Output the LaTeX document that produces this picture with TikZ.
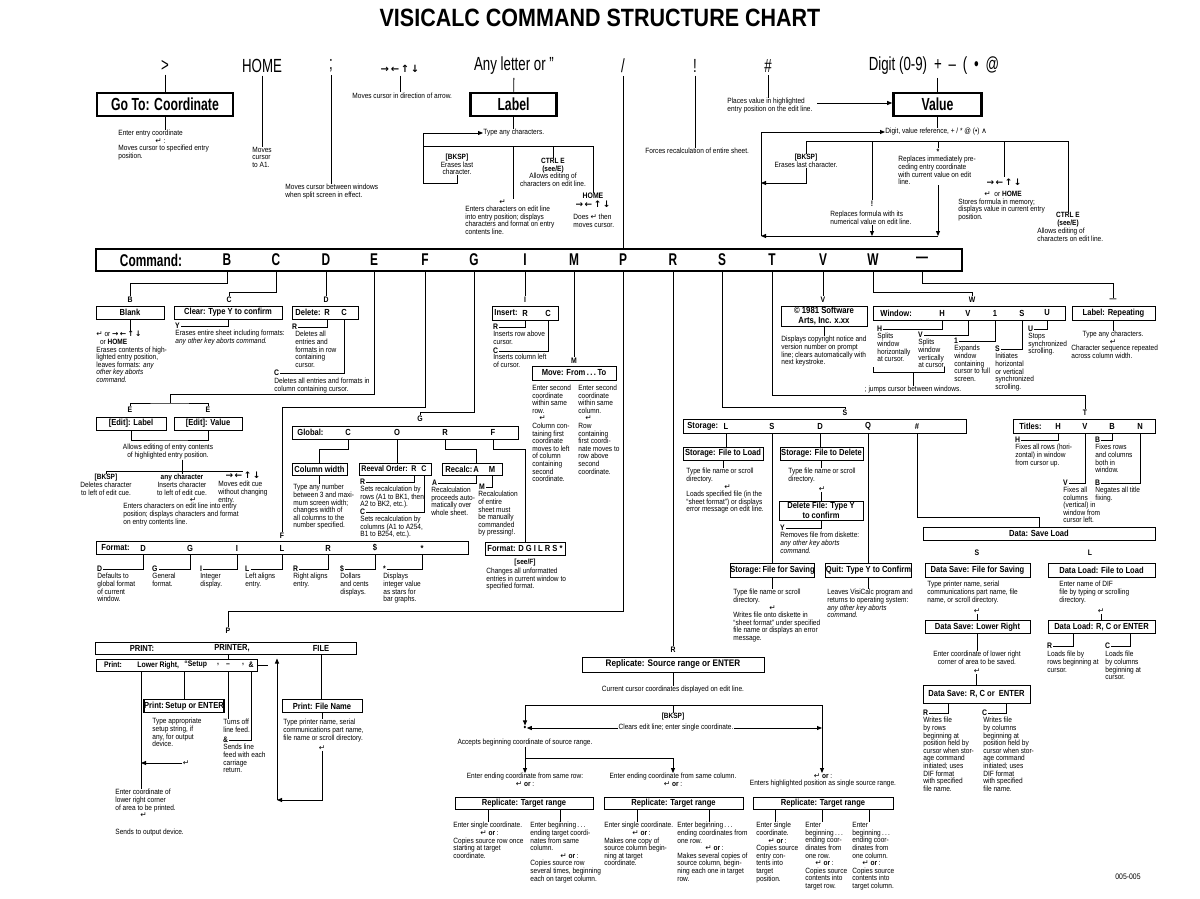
\documentclass[tikz,border=0pt]{standalone}
\usepackage{fontspec}
\setmainfont[FakeStretch=0.86]{Liberation Sans}
\newfontfamily\condfont[FakeStretch=0.7]{Liberation Sans}
\newfontfamily\symfont{DejaVu Sans}
\usetikzlibrary{arrows.meta}
\newcommand{\entk}{{\symfont ↵}}
\newcommand{\arrkeys}{{\symfont\bfseries →\,←\,↑\,↓}}

\begin{document}
\begin{tikzpicture}[x=1pt, y=-1pt, line width=0.85pt,
    hdr/.style={font=\condfont\fontsize{19}{20}\selectfont, inner sep=0pt, outer sep=3pt},
    bigbox/.style={draw, line width=2.6pt, font=\condfont\bfseries\fontsize{17.5}{18}\selectfont, inner sep=0pt, minimum height=23pt},
    cbox/.style={draw, line width=1pt, font=\bfseries\fontsize{8.8}{9.4}\selectfont, inner sep=0pt, minimum height=13pt},
    cbar/.style={draw, line width=1pt, inner sep=0pt, minimum height=13pt},
    ltr/.style={font=\bfseries\fontsize{8.8}{9}\selectfont, inner sep=0pt},
    cltr/.style={font=\condfont\bfseries\fontsize{17}{18}\selectfont, inner sep=0pt},
    lab/.style={font=\bfseries\fontsize{8}{8}\selectfont, inner sep=0.8pt},
    note/.style={font=\fontsize{7.6}{7.6}\selectfont, align=left, anchor=north west, inner sep=0pt},
    cnote/.style={note, align=center, anchor=north},
    arw/.style={-{Triangle[length=5pt,width=4pt]}}
]
\useasboundingbox (0,0) rectangle (1200,899);

% Title
\node[font=\bfseries\fontsize{25}{26}\selectfont] (title) at (600,18) {VISICALC COMMAND STRUCTURE CHART};

% Draw key row
\node[hdr] (kGo) at (165,66) {>};
\node[hdr] (kHome) at (262,66) {HOME};
\node[hdr] (kSemi) at (331,66) {;};
\node[font=\fontsize{10}{10}\selectfont, inner sep=0pt, outer sep=3pt] (kArr) at (400,69) {\arrkeys};
\node[hdr] (kLetter) at (514,66) {Any letter or ”};
\node[hdr] (kSlash) at (623,66) {/};
\node[hdr] (kBang) at (695,66) {!};
\node[hdr] (kHash) at (768,66) {\#};
\node[hdr] (kDigit) at (934,66) {Digit (0-9) \,+\, –\, (\, •\, @};

% Go To and cursor keys
\node[bigbox, minimum width=136pt] (goto) at (165,104.5) {Go To: Coordinate};
\node[note] (gotoTxt) at (118,129.5) {Enter entry coordinate\\\hspace*{37pt}\entk\ :\\Moves cursor to specified entry\\position.};
\node[note] (homeTxt) at (252,146.5) {Moves\\cursor\\to A1.};
\node[note] (semiTxt) at (285,183.5) {Moves cursor between windows\\when split screen in effect.};
\node[note] (arrTxt) at (352,92.5) {Moves cursor in direction of arrow.};

\draw (kGo) -- (goto);
\draw (goto.south) -- (goto.south |- gotoTxt.north);
\draw (kHome) -- (kHome |- homeTxt.north);
\draw (kSemi) -- (kSemi |- semiTxt.north);
\draw (kArr) -- (kArr |- arrTxt.north);

% Label
\node[bigbox, minimum width=86pt] (label) at (513.5,104.5) {Label};
\node[note, anchor=west] (typTxt) at (483,133) {Type any characters.};
\node[cnote] (bkL) at (457,153.5) {\textbf{[BKSP]}\\Erases last\\character.};
\node[cnote] (ctrlL) at (553,158) {\textbf{CTRL E}\\\textbf{(see/E)}\\Allows editing of\\characters on edit line.};
\node[note] (entTxt) at (465,199) {\hspace*{34pt}\entk\\Enters characters on edit line\\into entry position; displays\\characters and format on entry\\contents line.};
\node[cnote, font=\bfseries\fontsize{8}{9}\selectfont] (homeL) at (593,192.5) {HOME\\{\fontsize{9}{9}\selectfont\arrkeys}};
\node[note] (doesTxt) at (573,213.5) {Does \entk\ then\\moves cursor.};
\coordinate (lpL) at (423,183);
\coordinate (brL) at (423,146);

\draw (kLetter) -- (label);
\draw (label.south) -- (label.south |- typTxt.north);
\draw[arw] (bkL.south) |- (lpL) |- (typTxt.west);
\draw (brL) -| (homeL.north);
\draw (ctrlL.north |- brL) -- (ctrlL.north);
\draw (label.south |- brL) -- (label.south |- entTxt.north);

% Slash, bang, hash
\node[note] (bangTxt) at (645,147.5) {Forces recalculation of entire sheet.};
\node[note] (hashTxt) at (727,98) {Places value in highlighted\\entry position on the edit line.};
\draw (kBang) -- (kBang |- bangTxt.north);
\draw (kHash) -- (kHash |- hashTxt.north);

% Value
\node[bigbox, minimum width=88pt] (value) at (937.5,104.5) {Value};
\coordinate (hashA) at (817,103);
\node[note, anchor=west] (digTxt) at (885,132) {Digit, value reference, + / * @ (•) {\symfont ∧}};
\node[cnote] (bkV) at (806,154) {\textbf{[BKSP]}\\Erases last character.};
\node[lab] (starV) at (938,152) {*};
\node[note] (repTxt) at (898,156) {Replaces immediately pre-\\ceding entry coordinate\\with current value on edit\\line.};
\node[lab] (bangV) at (872,204) {!};
\node[note] (fmlTxt) at (830,211) {Replaces formula with its\\numerical value on edit line.};
\node[font=\fontsize{9}{9}\selectfont, inner sep=0.8pt] (arrV) at (1004,182) {\arrkeys};
\node[note] (storeTxt) at (958,191) {\hspace*{26pt}\entk\ \ or \textbf{HOME}\\Stores formula in memory;\\displays value in current entry\\position.};
\node[cnote] (ctrlV) at (1068,212) {\textbf{CTRL E}\\\textbf{(see/E)}};
\node[note] (ctrlVTxt) at (1037,228) {Allows editing of\\characters on edit line.};
\coordinate (brV) at (806,141);
\coordinate (lpV) at (761,236);
\coordinate (lpV1) at (761,183);

\draw (value.north |- kDigit.south) -- (value.north);
\draw[arw] (hashA) -- (hashA -| value.west);
\draw (value.south) -- (value.south |- digTxt.north);
\draw (bkV.north) -- (bkV.north |- brV) -| (ctrlV.north);
\draw (starV.north |- brV) -- (starV.north);
\draw (bangV.north |- brV) -- (bangV.north);
\draw (arrV.north |- brV) -- (arrV.north);
\draw[arw] (bkV.south) |- (lpV1);
\draw[arw] (starV |- repTxt.south) -- (starV |- lpV);
\draw[arw] (bangV |- fmlTxt.south) -- (bangV |- lpV);
\draw[arw] (starV |- lpV) -- (lpV);
\draw[arw] (lpV) |- (digTxt.west);

% Command bar
\node[draw, line width=2.6pt, minimum width=866pt, minimum height=22pt, inner sep=0pt] (cmd) at (529,260) {};
\node[cltr] (cmdT) at (151,260) {Command:};
\node[cltr] (cB) at (227,260) {B};
\node[cltr] (cC) at (276,260) {C};
\node[cltr] (cD) at (326,260) {D};
\node[cltr] (cE) at (374,260) {E};
\node[cltr] (cF) at (425,260) {F};
\node[cltr] (cG) at (474,260) {G};
\node[cltr] (cI) at (525,260) {I};
\node[cltr] (cM) at (574,260) {M};
\node[cltr] (cP) at (623,260) {P};
\node[cltr] (cR) at (673,260) {R};
\node[cltr] (cS) at (722,260) {S};
\node[cltr] (cT) at (772,260) {T};
\node[cltr] (cV) at (823,260) {V};
\node[cltr] (cW) at (873,260) {W};
\node[cltr] (cDash) at (922,260) {—};
\draw (kSlash) -- (kSlash |- cmd.north);

% Command letters below the bar
\node[lab] (lB) at (130,300) {B};
\node[lab] (lC) at (229,300) {C};
\node[lab] (lD) at (326,300) {D};
\node[lab] (lE1) at (130,410) {E};
\node[lab] (lE2) at (208,410) {E};
\node[lab] (lF) at (282,536) {F};
\node[lab] (lG) at (420,419) {G};
\node[lab] (lI) at (525,300) {I};
\node[lab] (lM) at (574,361) {M};
\node[lab] (lP) at (228,631) {P};
\node[lab] (lR) at (673,650) {R};
\node[lab] (lS) at (845,413) {S};
\node[lab] (lT) at (1085,413) {T};
\node[lab] (lV) at (823,300) {V};
\node[lab] (lW) at (972,300) {W};
\node[lab] (lDash) at (1113,300) {—};
\coordinate (eCor) at (170,394);
\coordinate (eMid) at (170,403);
\coordinate (fCor) at (282,407);
\coordinate (gCor) at (420,412);
\coordinate (pCor) at (228,611);
\coordinate (sCor) at (845,407);
\coordinate (tCor) at (1085,395);
\coordinate (wCor) at (972,292);
\coordinate (dCor) at (1113,283);

\draw (cB |- cmd.south) -- ++(0,11) -| (lB);
\draw (cC |- cmd.south) -- ++(0,20) -| (lC);
\draw (cD |- cmd.south) -- (lD);
\draw (cE |- cmd.south) |- (eCor) -- (eMid);
\draw (lE1.north) |- (eMid) -| (lE2.north);
\draw (cF |- cmd.south) |- (fCor) -- (lF);
\draw (cG |- cmd.south) |- (gCor) -- (lG);
\draw (cI |- cmd.south) -- (lI);
\draw (cM |- cmd.south) -- (lM);
\draw (cP |- cmd.south) |- (pCor) -- (lP);
\draw (cR |- cmd.south) -- (lR);
\draw (cS |- cmd.south) |- (sCor) -- (lS);
\draw (cT |- cmd.south) |- (tCor) -- (lT);
\draw (cV |- cmd.south) -- (lV);
\draw (cW |- cmd.south) |- (wCor) -- (lW);
\draw (cDash |- cmd.south) |- (dCor) -- (lDash);

% Blank, Clear, Delete
\node[cbox, minimum width=68pt] (blank) at (130,312.5) {Blank};
\node[note] (blankTxt) at (96,331) {\entk\ or \arrkeys\\\ \ or \textbf{HOME}\\Erases contents of high-\\lighted entry position,\\leaves formats: \textit{any}\\\textit{other key aborts}\\\textit{command.}};
\draw (blank.south) -- (blank.south |- blankTxt.north);

\node[cbox, minimum width=108pt] (clear) at (228,312.5) {Clear: Type Y to confirm};
\node[lab, anchor=west] (clY) at (174,326) {Y};
\node[note] (clearTxt) at (175,330) {Erases entire sheet including formats:\\\textit{any other key aborts command.}};
\draw (clY.east) -| (clear.south);

\node[cbox, minimum width=66pt] (delete) at (325,312.5) {};
\node[ltr, anchor=west] (delT) at (295,312.5) {Delete:};
\node[ltr] (delR) at (327,312.5) {R};
\node[ltr] (delC) at (344,312.5) {C};
\node[lab, anchor=west] (dlR) at (291,327) {R};
\node[note] (dlRTxt) at (295,331) {Deletes all\\entries and\\formats in row\\containing\\cursor.};
\node[lab, anchor=west] (dlC) at (273,373) {C};
\node[note] (dlCTxt) at (274,378) {Deletes all entries and formats in\\column containing cursor.};
\draw (dlR.east) -| (delR |- delete.south);
\draw (dlC.east) -| (delC |- delete.south);

% Edit
\node[cbox, minimum width=70pt] (editL) at (131,423.5) {[Edit]: Label};
\node[cbox, minimum width=68pt] (editV) at (208,423.5) {[Edit]: Value};
\coordinate (edBr) at (168,440);
\node[cnote] (edTxt) at (168,444) {Allows editing of entry contents\\of highlighted entry position.};
\node[cnote] (bkE) at (106,474) {\textbf{[BKSP]}\\Deletes character\\to left of edit cue.};
\node[cnote] (anyE) at (182,474) {\textbf{any character}\\Inserts character\\to left of edit cue.\\\hspace*{22pt}\entk};
\node[font=\fontsize{9}{9}\selectfont, inner sep=0pt] (arrE) at (243,475) {\arrkeys};
\node[note] (movE) at (218,481) {Moves edit cue\\without changing\\entry.};
\node[note] (edEnt) at (123,503) {Enters characters on edit line into entry\\position; displays characters and format\\on entry contents line.};
\draw (editL.south) |- (edBr) -| (editV.south);
\draw (bkE.north) |- (arrE.north);
\draw (anyE.north |- edTxt.south) -- (anyE.north);

% Format bar
\node[cbar, minimum width=372pt] (fmt) at (282,548) {};
\node[ltr, anchor=west] (fmtT) at (101,548) {Format:};
\node[ltr] (fmD) at (143,548) {D};
\node[ltr] (fmG) at (190,548) {G};
\node[ltr] (fmI) at (237,548) {I};
\node[ltr] (fmL) at (282,548) {L};
\node[ltr] (fmR) at (328,548) {R};
\node[ltr] (fmS) at (375,548) {\$};
\node[ltr] (fmX) at (422,548) {*};
\node[lab, anchor=west] (lfD) at (96,569) {D};
\node[lab, anchor=west] (lfG) at (151,569) {G};
\node[lab, anchor=west] (lfI) at (199,569) {I};
\node[lab, anchor=west] (lfL) at (244,569) {L};
\node[lab, anchor=west] (lfR) at (292,569) {R};
\node[lab, anchor=west] (lfS) at (339,569) {\$};
\node[lab, anchor=west] (lfX) at (382,569) {*};
\node[note] (tfD) at (97,573) {Defaults to\\global format\\of current\\window.};
\node[note] (tfG) at (152,573) {General\\format.};
\node[note] (tfI) at (200,573) {Integer\\display.};
\node[note] (tfL) at (245,573) {Left aligns\\entry.};
\node[note] (tfR) at (293,573) {Right aligns\\entry.};
\node[note] (tfS) at (340,573) {Dollars\\and cents\\displays.};
\node[note] (tfX) at (383,573) {Displays\\integer value\\as stars for\\bar graphs.};
\draw (lfD.east) -| (fmD |- fmt.south);
\draw (lfG.east) -| (fmG |- fmt.south);
\draw (lfI.east) -| (fmI |- fmt.south);
\draw (lfL.east) -| (fmL |- fmt.south);
\draw (lfR.east) -| (fmR |- fmt.south);
\draw (lfS.east) -| (fmS |- fmt.south);
\draw (lfX.east) -| (fmX |- fmt.south);

% Global
\node[cbar, minimum width=226pt] (glob) at (405,432.5) {};
\node[ltr, anchor=west] (glT) at (297,432.5) {Global:};
\node[ltr] (glC) at (348,432.5) {C};
\node[ltr] (glO) at (397,432.5) {O};
\node[ltr] (glR) at (445,432.5) {R};
\node[ltr] (glF) at (493,432.5) {F};

\node[cbox, minimum width=55pt, minimum height=12pt] (colw) at (319.5,469) {Column width};
\node[note] (colwTxt) at (293,484) {Type any number\\between 3 and maxi-\\mum screen width;\\changes width of\\all columns to the\\number specified.};
\draw (glC |- glob.south) -- ++(0,10) -| (colw.north);
\draw (colw.south) -- (colw.south |- colwTxt.north);

\node[cbox, minimum width=72pt, minimum height=12pt] (reev) at (395,469) {};
\node[ltr, anchor=west, font=\bfseries\fontsize{8.2}{9}\selectfont] (reT) at (361,469) {Reeval Order:};
\node[ltr, font=\bfseries\fontsize{8.2}{9}\selectfont] (reR) at (414,469) {R};
\node[ltr, font=\bfseries\fontsize{8.2}{9}\selectfont] (reC) at (424,469) {C};
\node[lab, anchor=west] (rvR) at (359,482) {R};
\node[note] (rvRTxt) at (360,485.5) {Sets recalculation by\\rows (A1 to BK1, then\\A2 to BK2, etc.).};
\node[lab, anchor=west] (rvC) at (359,512) {C};
\node[note] (rvCTxt) at (360,515.5) {Sets recalculation by\\columns (A1 to A254,\\B1 to B254, etc.).};
\draw (glO |- glob.south) -- (glO |- reev.north);
\draw (rvR.east) -| (reR |- reev.south);
\draw (rvC.east) -| (reC |- reev.south);

\node[cbox, minimum width=60pt, minimum height=12pt] (recalc) at (472,469) {};
\node[ltr, anchor=west] (rcT) at (445,469) {Recalc:};
\node[ltr] (rcA) at (476,469) {A};
\node[ltr] (rcM) at (492,469) {M};
\node[lab, anchor=west] (rA) at (431,483) {A};
\node[note] (rATxt) at (431,486.5) {Recalculation\\proceeds auto-\\matically over\\whole sheet.};
\node[lab, anchor=west] (rM) at (478,487) {M};
\node[note] (rMTxt) at (478,491) {Recalculation\\of entire\\sheet must\\be manually\\commanded\\by pressing!.};
\draw (glR |- glob.south) -- ++(0,10) -| (rcA |- recalc.north);
\draw (rA.east) -| (rcA |- recalc.south);
\draw (rM.east) -| (rcM |- recalc.south);

\node[cbox, minimum width=80pt] (fmtg) at (525,548.5) {Format: D G I L R S *};
\node[cnote, font=\bfseries\fontsize{7.6}{7.6}\selectfont] (fgSee) at (525,559) {[see/F]};
\node[note] (fgTxt) at (486,567.5) {Changes all unformatted\\entries in current window to\\specified format.};
\draw (glF |- glob.south) -- ++(0,10) -| (fmtg.north);

% Insert and Move
\node[cbox, minimum width=66pt, minimum height=14pt] (insert) at (525,313) {};
\node[ltr, anchor=west] (insT) at (494,313) {Insert:};
\node[ltr] (insR) at (525,313) {R};
\node[ltr] (insC) at (548,313) {C};
\node[lab, anchor=west] (inR) at (492,327) {R};
\node[note] (inRTxt) at (493,331) {Inserts row above\\cursor.};
\node[lab, anchor=west] (inC) at (492,351) {C};
\node[note] (inCTxt) at (493,354) {Inserts column left\\of cursor.};
\draw (inR.east) -| (insR |- insert.south);
\draw (inC.east) -| (insC |- insert.south);

\node[cbox, minimum width=84pt, minimum height=14pt] (move) at (574,373) {Move: From\,.\,.\,.\,To};
\node[note] (mvL) at (532,384.5) {Enter second\\coordinate\\within same\\row.\\\hspace*{7pt}\entk\\Column con-\\taining first\\coordinate\\moves to left\\of column\\containing\\second\\coordinate.};
\node[note] (mvR) at (578,384.5) {Enter second\\coordinate\\within same\\column.\\\hspace*{7pt}\entk\\Row\\containing\\first coordi-\\nate moves to\\row above\\second\\coordinate.};

% Copyright, Window, Label repeating
\node[cbox, minimum width=86pt, minimum height=20pt, align=center, font=\bfseries\fontsize{9}{9.5}\selectfont] (copyr) at (824,316) {\textcopyright\ 1981 Software\\Arts, Inc. x.xx};
\node[note] (cpTxt) at (781,336) {Displays copyright notice and\\version number on prompt\\line; clears automatically with\\next keystroke.};
\draw (copyr.south) -- (copyr.south |- cpTxt.north);

\node[cbox, minimum width=192pt, minimum height=14pt] (window) at (969,313) {};
\node[ltr, anchor=west] (winT) at (880,313) {Window:};
\node[ltr] (winH) at (942,313) {H};
\node[ltr] (winV) at (968,313) {V};
\node[ltr] (win1) at (995,313) {1};
\node[ltr] (winS) at (1022,313) {S};
\node[ltr] (winU) at (1047,313) {U};
\node[lab, anchor=west] (wH) at (876,329) {H};
\node[note] (wHTxt) at (877,333) {Splits\\window\\horizontally\\at cursor.};
\node[lab, anchor=west] (wV) at (917,335) {V};
\node[note] (wVTxt) at (918,339) {Splits\\window\\vertically\\at cursor.};
\node[lab, anchor=west] (w1) at (953,341) {1};
\node[note] (w1Txt) at (954,345) {Expands\\window\\containing\\cursor to full\\screen.};
\node[lab, anchor=west] (wS) at (994,349) {S};
\node[note] (wSTxt) at (995,353) {Initiates\\horizontal\\or vertical\\synchronized\\scrolling.};
\node[lab, anchor=west] (wU) at (1027,329) {U};
\node[note] (wUTxt) at (1028,333) {Stops\\synchronized\\scrolling.};
\coordinate (wbr) at (913,372);
\node[cnote] (jumpTxt) at (913,385.5) {; jumps cursor between windows.};
\draw (wH.east) -| (winH |- window.south);
\draw (wV.east) -| (winV |- window.south);
\draw (w1.east) -| (win1 |- window.south);
\draw (wS.east) -| (winS |- window.south);
\draw (wU.east) -| (winU |- window.south);
\draw (wbr) ++(-40,-5) -- ++(0,5) -- ++(71,0) -- ++(0,-5);
\draw (wbr) -- (jumpTxt.north);

\node[cbox, minimum width=83pt, minimum height=14pt] (labrep) at (1113.5,313) {Label: Repeating};
\node[cnote] (lrTxt) at (1113,330.5) {Type any characters.\\\entk};
\node[note] (lrTxt2) at (1071,345) {Character sequence repeated\\across column width.};
\draw (labrep.south) -- (labrep.south |- lrTxt.north);

% Storage
\node[cbar, minimum width=283pt, minimum height=14pt] (stor) at (824.5,426) {};
\node[ltr, anchor=west] (stT) at (687,426) {Storage:};
\node[ltr] (stL) at (726,426) {L};
\node[ltr] (stS) at (772,426) {S};
\node[ltr] (stD) at (820,426) {D};
\node[ltr] (stQ) at (868,426) {Q};
\node[ltr] (stH) at (917,426) {\#};

\node[cbox, minimum width=80pt] (stload) at (723,453.5) {Storage: File to Load};
\node[note] (stloadTxt) at (686,468) {Type file name or scroll\\directory.\\\hspace*{38pt}\entk\\Loads specified file (in the\\“sheet format”) or displays\\error message on edit line.};
\draw (stL |- stor.south) -- (stL |- stload.north);
\draw (stload.south) -- (stload.south |- stloadTxt.north);

\node[cbox, minimum width=83pt] (stdel) at (821.5,453.5) {Storage: File to Delete};
\node[note] (stdelTxt) at (788,468) {Type file name or scroll\\directory.};
\node[note, anchor=center] (sdEnt) at (822,489) {\entk};
\node[cbox, minimum width=84pt, minimum height=19pt, align=center] (delf) at (821,510.5) {Delete File: Type Y\\to confirm};
\node[lab, anchor=west] (sdY) at (779,528) {Y};
\node[note] (sdYTxt) at (780,532) {Removes file from diskette:\\\textit{any other key aborts}\\\textit{command.}};
\draw (stD |- stor.south) -- (stD |- stdel.north);
\draw (stdel.south) -- (stdel.south |- stdelTxt.north);
\draw (sdEnt.south -| delf.north) -- (delf.north);
\draw (sdY.east) -| (delf.south);

\node[cbox, minimum width=81pt, minimum height=14pt] (stsave) at (772.5,570) {Storage:\,File for Saving};
\node[note] (stsaveTxt) at (733,589) {Type file name or scroll\\directory.\\\hspace*{36pt}\entk\\Writes file onto diskette in\\“sheet format” under specified\\file name or displays an error\\message.};
\draw (stS |- stor.south) -- (stS |- stsave.north);
\draw (stsave.south) -- (stsave.south |- stsaveTxt.north);

\node[cbox, minimum width=83pt, minimum height=14pt] (quit) at (868.5,570) {Quit: Type Y to Confirm};
\node[note] (quitTxt) at (827,589) {Leaves VisiCalc program and\\returns to operating system:\\\textit{any other key aborts}\\\textit{command.}};
\draw (stQ |- stor.south) -- (stQ |- quit.north);
\draw (quit.south) -- (quit.south |- quitTxt.north);

% Data save and load
\node[cbox, minimum width=232pt] (dsl) at (1039,533.5) {Data: Save Load};
\node[lab] (dsS) at (977,553) {S};
\node[lab] (dsL) at (1090,553) {L};
\draw (stH |- stor.south) -- ++(0,84) -| (dsl.north);

\node[cbox, minimum width=105pt, minimum height=14pt] (dsave) at (977.5,570) {Data Save: File for Saving};
\node[note] (dsaveTxt) at (927,581) {Type printer name, serial\\communications part name, file\\name, or scroll directory.};
\node[note, anchor=center] (dsEnt) at (977,611) {\entk};
\node[cbox, minimum width=105pt] (dslr) at (977.5,627) {Data Save: Lower Right};
\node[cnote] (dlrTxt) at (977,651) {Enter coordinate of lower right\\corner of area to be saved.};
\node[note, anchor=center] (dlrEnt) at (977,671) {\entk};
\node[cbox, minimum width=107pt, minimum height=18pt] (dsrc) at (976.5,694.5) {Data Save: R, C or\ \ ENTER};
\coordinate (dsrcR) at ([xshift=-28.5pt]dsrc.south);
\coordinate (dsrcC) at ([xshift=29.5pt]dsrc.south);
\node[lab, anchor=west] (dsR) at (922,713) {R};
\node[lab, anchor=west] (dsC) at (981,713) {C};
\node[note] (dsRTxt) at (923,717) {Writes file\\by rows\\beginning at\\position held by\\cursor when stor-\\age command\\initiated; uses\\DIF format\\with specified\\file name.};
\node[note] (dsCTxt) at (983,717) {Writes file\\by columns\\beginning at\\position held by\\cursor when stor-\\age command\\initiated; uses\\DIF format\\with specified\\file name.};
\draw (dsEnt.south -| dslr.north) -- (dslr.north);
\draw (dslr.south) -- (dslr.south |- dlrTxt.north);
\draw (dlrEnt.south -| dsrc.north) -- (dsrc.north);
\draw (dsR.east) -| (dsrcR);
\draw (dsC.east) -| (dsrcC);

\node[cbox, minimum width=107pt, minimum height=14pt] (dload) at (1101.5,570) {Data Load: File to Load};
\node[note] (dloadTxt) at (1059,581) {Enter name of DIF\\file by typing or scrolling\\directory.};
\node[note, anchor=center] (dlEnt) at (1101,611) {\entk};
\node[cbox, minimum width=107pt] (dlrc) at (1101.5,627) {Data Load: R, C or ENTER};
\coordinate (dlrcR) at ([xshift=-28.5pt]dlrc.south);
\coordinate (dlrcC) at ([xshift=28.5pt]dlrc.south);
\node[lab, anchor=west] (dlR) at (1046,646) {R};
\node[lab, anchor=west] (dlC) at (1104,646) {C};
\node[note] (dlRTxt) at (1047,651) {Loads file by\\rows beginning at\\cursor.};
\node[note] (dlCTxt) at (1105,651) {Loads file\\by columns\\beginning at\\cursor.};
\draw (dlEnt.south -| dlrc.north) -- (dlrc.north);
\draw (dlR.east) -| (dlrcR);
\draw (dlC.east) -| (dlrcC);

% Titles
\node[cbar, minimum width=142pt, minimum height=14pt] (titl) at (1084,426.5) {};
\node[ltr, anchor=west] (tiT) at (1019,426.5) {Titles:};
\node[ltr] (tiH) at (1058,426.5) {H};
\node[ltr] (tiV) at (1085,426.5) {V};
\node[ltr] (tiB) at (1112,426.5) {B};
\node[ltr] (tiN) at (1140,426.5) {N};
\node[lab, anchor=west] (tH) at (1014,440) {H};
\node[note] (tHTxt) at (1015,444) {Fixes all rows (hori-\\zontal) in window\\from cursor up.};
\node[lab, anchor=west] (tV) at (1062,483) {V};
\node[note] (tVTxt) at (1063,486.5) {Fixes all\\columns\\(vertical) in\\window from\\cursor left.};
\node[lab, anchor=west] (tB) at (1094,440) {B};
\node[note] (tBTxt) at (1095,444) {Fixes rows\\and columns\\both in\\window.};
\node[lab, anchor=west] (tN) at (1094,483) {B};
\node[note] (tNTxt) at (1095,486.5) {Negates all title\\fixing.};
\draw (tH.east) -| (tiH |- titl.south);
\draw (tV.east) -| (tiV |- titl.south);
\draw (tB.east) -| (tiB |- titl.south);
\draw (tN.east) -| (tiN |- titl.south);

% Print
\node[cbar, minimum width=261pt, minimum height=12pt] (print) at (225.5,648) {};
\node[ltr] (prT) at (142,648) {PRINT:};
\node[ltr] (prP) at (232,648) {PRINTER,};
\node[ltr] (prF) at (321,648) {FILE};
\node[cbar, minimum width=161pt, minimum height=12pt] (prlr) at (176.5,665) {};
\node[ltr, font=\bfseries\fontsize{8}{9}\selectfont] (plT) at (113,665) {Print:};
\node[ltr, anchor=west, font=\bfseries\fontsize{8}{9}\selectfont] (plLR) at (137,665) {Lower Right,};
\node[ltr, anchor=west, font=\bfseries\fontsize{8}{9}\selectfont] (plSU) at (184,665) {“Setup};
\node[ltr, font=\bfseries\fontsize{8}{9}\selectfont] (plC1) at (218,665) {,};
\node[ltr, font=\bfseries\fontsize{8}{9}\selectfont] (plDa) at (228,665) {–};
\node[ltr, font=\bfseries\fontsize{8}{9}\selectfont] (plC2) at (243,665) {,};
\node[ltr, font=\bfseries\fontsize{8}{9}\selectfont] (plAm) at (251,665) {\&};
\draw (lP |- print.south) -- (lP |- prlr.north);

\node[note] (prLRTxt) at (115,789) {Enter coordinate of\\lower right corner\\of area to be printed.\\\hspace*{25pt}\entk};
\node[note] (prOut) at (115,829) {Sends to output device.};
\draw ([xshift=4pt]plLR.west |- prlr.south) -- ([xshift=4pt]plLR.west |- prLRTxt.north);

\node[cbox, minimum width=76pt, line width=1.6pt] (psetup) at (184,706) {Print:\,Setup or ENTER};
\node[note] (psTxt) at (152,718) {Type appropriate\\setup string, if\\any, for output\\device.};
\node[note, anchor=center] (psEnt) at (186,763) {\entk};
\draw (plSU.west |- prlr.south) -- (plSU.west |- psetup.north);
\draw[arw] (psEnt.west) -- ([xshift=4pt]plLR.west |- psEnt.west);

\node[note] (dashTxt) at (223,719) {Turns off\\line feed.};
\node[lab, anchor=west] (pAmp) at (222,740) {\&};
\node[note] (ampTxt) at (223,744) {Sends line\\feed with each\\carriage\\return.};
\draw (plDa |- prlr.south) -- (plDa |- dashTxt.north);
\draw (pAmp.east) -| (plAm |- prlr.south);

\node[cbox, minimum width=80pt] (pfile) at (322,706) {Print: File Name};
\node[note] (pfTxt) at (283,719) {Type printer name, serial\\communications part name,\\file name or scroll directory.};
\node[note, anchor=center] (pfEnt) at (322,748) {\entk};
\coordinate (pfLoop) at (277,800);
\draw (prF |- print.south) -- (prF |- pfile.north);
\draw (pfile.south) -- (pfile.south |- pfTxt.north);
\draw[arw] (pfEnt.south) |- (pfLoop);
\draw[arw] (pfLoop) -- (pfLoop |- prlr.north);
\draw (prlr.east) -- ++(10,0);

% Replicate
\node[cbox, minimum width=182pt, minimum height=15pt, font=\bfseries\fontsize{9.5}{10}\selectfont] (rsrc) at (673,664.5) {Replicate: Source range or ENTER};
\node[cnote] (curTxt) at (673,686) {Current cursor coordinates displayed on edit line.};
\coordinate (rbL) at (525,705);
\coordinate (rbR) at (822,705);
\node[cnote, font=\bfseries\fontsize{7.6}{7.6}\selectfont] (bksR) at (673,713) {[BKSP]};
\node[inner sep=0pt, font=\fontsize{9}{9}\selectfont] (dotR) at (525,728) {•};
\node[note, anchor=center] (clrTxt) at (676,728) {Clears edit line; enter single coordinate.};
\node[cnote] (ent3) at (823,773) {\entk\ \textbf{or} :\\Enters highlighted position as single source range.};
\node[cnote] (accTxt) at (525,739) {Accepts beginning coordinate of source range.};
\node[cnote] (endR) at (525,773) {Enter ending coordinate from same row:\\\entk\ \textbf{or} :};
\node[cnote] (endC) at (673,773) {Enter ending coordinate from same column.\\\entk\ \textbf{or} :};
\draw (rsrc.south) -- (rsrc.south |- curTxt.north);
\draw (rbL) -- (rbR);
\draw (rsrc.south |- rbL) -- (bksR.north);
\draw[arw] (rbL) -- (dotR.north);
\draw[arw] (rbR) -- (rbR |- ent3.north);
\draw[arw] (clrTxt.west) -- (dotR.east);
\draw[arw] (clrTxt.east) -- (clrTxt.east -| rbR);
\draw[arw] (accTxt.south) -- ++(0,11) -| (endC.north);
\draw[arw] (accTxt.south) -- (endR.north);

\node[cbox, minimum width=138pt, minimum height=12pt] (tgt1) at (524,803) {Replicate: Target range};
\node[cbox, minimum width=139pt, minimum height=12pt] (tgt2) at (673.5,803) {Replicate: Target range};
\node[cbox, minimum width=140pt, minimum height=12pt] (tgt3) at (823,803) {Replicate: Target range};
\coordinate (t1d1) at ([xshift=-36pt]tgt1.south);
\coordinate (t1d2) at ([xshift=36pt]tgt1.south);
\coordinate (t2d1) at ([xshift=-36.5pt]tgt2.south);
\coordinate (t2d2) at ([xshift=35.5pt]tgt2.south);
\coordinate (t3d1) at ([xshift=-48pt]tgt3.south);
\coordinate (t3d2) at ([xshift=-1pt]tgt3.south);
\coordinate (t3d3) at ([xshift=46pt]tgt3.south);
\node[note] (t1a) at (453,822) {Enter single coordinate.\\\hspace*{27pt}\entk\ \textbf{or} :\\Copies source row once\\starting at target\\coordinate.};
\node[note] (t1b) at (530,822) {Enter beginning\,.\,.\,.\\ending target coordi-\\nates from same\\column.\\\hspace*{30pt}\entk\ \textbf{or} :\\Copies source row\\several times, beginning\\each on target column.};
\node[note] (t2a) at (604,822) {Enter single coordinate.\\\hspace*{28pt}\entk\ \textbf{or} :\\Makes one copy of\\source column begin-\\ning at target\\coordinate.};
\node[note] (t2b) at (677,822) {Enter beginning\,.\,.\,.\\ending coordinates from\\one row.\\\hspace*{28pt}\entk\ \textbf{or} :\\Makes several copies of\\source column, begin-\\ning each one in target\\row.};
\node[note] (t3a) at (756,822) {Enter single\\coordinate.\\\hspace*{12pt}\entk\ \textbf{or} :\\Copies source\\entry con-\\tents into\\target\\position.};
\node[note] (t3b) at (805,822) {Enter\\beginning\,.\,.\,.\\ending coor-\\dinates from\\one row.\\\hspace*{10pt}\entk\ \textbf{or} :\\Copies source\\contents into\\target row.};
\node[note] (t3c) at (852,822) {Enter\\beginning\,.\,.\,.\\ending coor-\\dinates from\\one column.\\\hspace*{10pt}\entk\ \textbf{or} :\\Copies source\\contents into\\target column.};
\draw (t1d1) -- (t1d1 |- t1a.north);
\draw (t1d2) -- (t1d2 |- t1b.north);
\draw (t2d1) -- (t2d1 |- t2a.north);
\draw (t2d2) -- (t2d2 |- t2b.north);
\draw (t3d1) -- (t3d1 |- t3a.north);
\draw (t3d2) -- (t3d2 |- t3b.north);
\draw (t3d3) -- (t3d3 |- t3c.north);

% Figure code
\node[note, anchor=center, font=\fontsize{8}{8}\selectfont] (code) at (1128,877) {005-005};
\end{tikzpicture}
\end{document}
